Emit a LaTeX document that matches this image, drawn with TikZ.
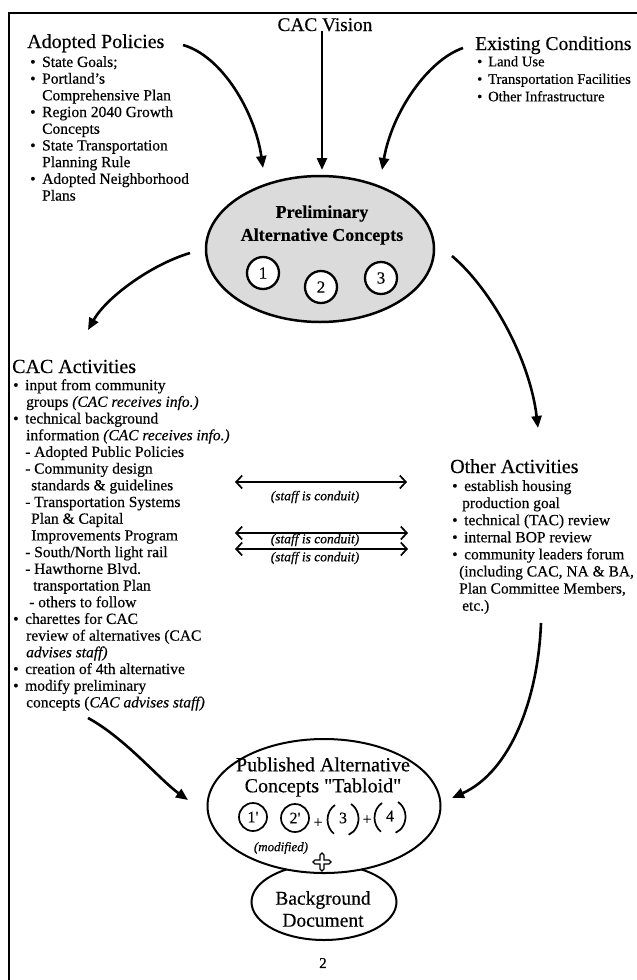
\documentclass[tikz,border=0pt]{standalone}
\usepackage{fontspec}
\setmainfont{Liberation Serif}[FakeBold=0.4]
\newfontfamily\rawserif{Liberation Serif}[FakeBold=0.4]
\usetikzlibrary{arrows.meta,shapes.geometric}
\begin{document}
\begin{tikzpicture}[x=1pt,y=-1pt,
  bigarrow/.style={line width=2.6pt,-{Triangle[length=12pt,width=10pt]}},
  conduit/.style={line width=1.7pt,{Straight Barb[length=6pt,width=13pt]}-{Straight Barb[length=6pt,width=13pt]}},
  headtxt/.style={font=\fontsize{20}{22}\selectfont,inner sep=0,anchor=base west},
  listtxt/.style={font=\fontsize{15.5}{16.7}\selectfont,inner sep=0,anchor=north west,align=left},
  condlbl/.style={font=\fontsize{13.5}{15}\selectfont\itshape,inner sep=0},
  numcirc/.style={draw,circle,line width=2.3pt,minimum size=32pt,inner sep=0,font=\fontsize{17}{18}\selectfont},
  pnumcirc/.style={draw,circle,line width=1.7pt,minimum size=28pt,inner sep=0,font=\fontsize{16}{17}\selectfont},
  oval/.style={draw,ellipse,inner sep=0}]
\useasboundingbox (0,0) rectangle (637,980);
\fill[white] (0,0) rectangle (637,980);
% frame
\coordinate (ftl) at (9,13); \coordinate (ftr) at (637,13); \coordinate (fbl) at (9,980);
\draw[line width=2.5pt] (ftr) -- (ftl) -- (fbl);

\newcommand{\bul}{\makebox[12pt][l]{•}}
\newcommand{\ind}[1]{\hspace*{#1}}

% top texts
\node[font=\fontsize{19.3}{20}\selectfont,inner sep=0,anchor=base] (vision) at (325,31) {CAC Vision};
\node[headtxt] (apH) at (27,48) {Adopted Policies};
\node[listtxt] (apL) at (30,56) {\bul State Goals;\\
\bul Portland's\\
\ind{12pt}Comprehensive Plan\\
\bul Region 2040 Growth\\
\ind{12pt}Concepts\\
\bul State Transportation\\
\ind{12pt}Planning Rule\\
\bul Adopted Neighborhood\\
\ind{12pt}Plans};
\node[headtxt,font=\fontsize{19.6}{22}\selectfont] (ecH) at (475,50) {Existing Conditions};
\node[listtxt,font=\fontsize{14.6}{17.5}\selectfont] (ecL) at (477,56) {\makebox[11pt][l]{•}Land Use\\
\makebox[11pt][l]{•}Transportation Facilities\\
\makebox[11pt][l]{•}Other Infrastructure};

% preliminary ellipse
\node[oval,line width=2.5pt,fill=black!14,minimum width=228pt,minimum height=146pt] (pre) at (320,249) {};
\node[font=\fontsize{18}{23}\selectfont\bfseries,align=center,inner sep=0] (preT) at (322,225) {Preliminary\\Alternative Concepts};
\node[numcirc,fill=white] (c1) at (263,273) {1};
\node[numcirc,fill=white] (c2) at (321,287) {2};
\node[numcirc,fill=white] (c3) at (381,278) {3};

% arrows into preliminary
\coordinate (apS) at (183,45); \coordinate (apE) at (263,168);
\coordinate (vsE) at (322,170);
\coordinate (ecS) at (463,48); \coordinate (ecE) at (382,170);
\draw[bigarrow] (apS) .. controls (222,56) and (255,112) .. (apE);
\draw[bigarrow] (vision.south -| vsE) -- (vsE);
\draw[bigarrow] (ecS) .. controls (428,60) and (392,112) .. (ecE);

% CAC activities
\node[headtxt] (cacH) at (12,373) {CAC Activities};
\node[listtxt] (cacL) at (13,379) {\bul input from community\\
\ind{13pt}groups \textit{(CAC receives info.)}\\
\bul technical background\\
\ind{13pt}information \textit{(CAC receives info.)}\\
\ind{12pt}- Adopted Public Policies\\
\ind{12pt}- Community design\\
\ind{18pt}standards \& guidelines\\
\ind{12pt}- Transportation Systems\\
\ind{18pt}Plan \& Capital\\
\ind{18pt}Improvements Program\\
\ind{12pt}- South/North light rail\\
\ind{12pt}- Hawthorne Blvd.\\
\ind{20pt}transportation Plan\\
\ind{16pt}- others to follow\\
\bul charettes for CAC\\
\ind{13pt}review of alternatives (CAC\\
\ind{13pt}\textit{advises staff)}\\
\bul creation of 4th alternative\\
\bul modify preliminary\\
\ind{13pt}concepts (\textit{CAC advises staff)}};

% Other activities
\node[headtxt] (oaH) at (450,473) {Other Activities};
\node[listtxt,font=\fontsize{15.5}{17.1}\selectfont] (oaL) at (452,480) {\bul establish housing\\
\ind{10pt}production goal\\
\bul technical (TAC) review\\
\bul internal BOP review\\
\bul community leaders forum\\
\ind{7pt}(including CAC, NA \& BA,\\
\ind{7pt}Plan Committee Members,\\
\ind{10pt}etc.)};

% arrows out of preliminary
\coordinate (toCacS) at (190,253); \coordinate (toCacE) at (88,330);
\coordinate (toOaS) at (452,256); \coordinate (toOaE) at (538,428);
\draw[bigarrow] (toCacS) .. controls (150,265) and (106,298) .. (toCacE);
\draw[bigarrow] (toOaS) .. controls (492,290) and (530,360) .. (toOaE);

% conduit arrows
\coordinate (d1a) at (235,482); \coordinate (d1b) at (407,482);
\coordinate (d2a) at (235,533); \coordinate (d2b) at (408,533);
\coordinate (d3a) at (235,549); \coordinate (d3b) at (408,549);
\draw[conduit] (d1a) -- (d1b);
\draw[conduit] (d2a) -- (d2b);
\draw[conduit] (d3a) -- (d3b);
\node[condlbl] (l1) at (315,497) {(staff is conduit)};
\node[condlbl] (l2) at (315,540) {(staff is conduit)};
\node[condlbl] (l3) at (315,558) {(staff is conduit)};

% background + published
\node[oval,line width=2pt,minimum width=145pt,minimum height=76pt] (bg) at (324,902) {};
\node[font=\fontsize{19.5}{22}\selectfont,align=center,inner sep=0] (bgT) at (323,909) {Background\\Document};
\node[oval,line width=2pt,fill=white,minimum width=233pt,minimum height=134pt] (pub) at (324,806) {};
\node[font=\fontsize{20}{21}\selectfont,align=center,inner sep=0] (pubT) at (323,777) {Published Alternative\\Concepts {\rawserif "}Tabloid{\rawserif "}};
\node[pnumcirc] (p1) at (253,817) {1{\rawserif '}};
\node[pnumcirc] (p2) at (295,818) {2{\rawserif '}};
\node[inner sep=0,font=\fontsize{16}{17}\selectfont] (plus1) at (318,823) {+};
\node[inner sep=0,font=\fontsize{16}{17}\selectfont] (p3) at (343,818) {3};
\draw[line width=1.7pt] (p3) ++(-8,-13) arc[start angle=240,end angle=125,x radius=15,y radius=17];
\draw[line width=1.7pt] (p3) ++(8,-14) arc[start angle=-60,end angle=70,x radius=15,y radius=17];
\node[inner sep=0,font=\fontsize{16}{17}\selectfont] (plus2) at (367,820) {+};
\node[inner sep=0,font=\fontsize{16}{17}\selectfont] (p4) at (390,816) {4};
\draw[line width=1.7pt] (p4) ++(-8,-13) arc[start angle=240,end angle=125,x radius=15,y radius=17];
\draw[line width=1.7pt] (p4) ++(8,-14) arc[start angle=-60,end angle=70,x radius=15,y radius=17];
\node[condlbl,font=\fontsize{13}{14}\selectfont\itshape] (mod) at (281,848) {(modified)};
\node[inner sep=0,minimum size=14pt] (crs) at (322,862) {};
\draw[line width=1.1pt] (crs.center) ++(-2,-2) -- ++(0,-5) -- ++(2,-2) -- ++(2,2) -- ++(0,5) -- ++(5,0) -- ++(2,2) -- ++(-2,2) -- ++(-5,0) -- ++(0,5) -- ++(-2,2) -- ++(-2,-2) -- ++(0,-5) -- ++(-5,0) -- ++(-2,-2) -- ++(2,-2) -- cycle;

% arrows into published
\coordinate (fromCacS) at (88,718); \coordinate (fromCacE) at (188,800);
\coordinate (fromOaS) at (541,623); \coordinate (fromOaE) at (452,798);
\draw[bigarrow] (fromCacS) .. controls (125,738) and (160,780) .. (fromCacE);
\draw[bigarrow] (fromOaS) .. controls (538,700) and (510,772) .. (fromOaE);

\node[inner sep=0,font=\fontsize{15}{16}\selectfont] (page) at (323,963) {2};
\end{tikzpicture}
\end{document}
